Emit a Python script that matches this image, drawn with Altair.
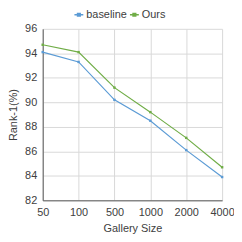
import altair as alt
import pandas as pd

gallery = ["50", "100", "500", "1000", "2000", "4000"]
baseline = [94.1, 93.3, 90.2, 88.5, 86.1, 83.9]
ours = [94.7, 94.1, 91.2, 89.2, 87.1, 84.7]
series = ["baseline", "Ours"]
colors = ["#5B9BD5", "#70AD47"]

rows = []
for g, b, o in zip(gallery, baseline, ours):
    rows.append({"Gallery Size": g, "series": "baseline", "value": b})
    rows.append({"Gallery Size": g, "series": "Ours", "value": o})
df = pd.DataFrame(rows)

font = "Liberation Sans"

chart = alt.Chart(df).mark_line(
    strokeWidth=1.2,
    point=alt.OverlayMarkDef(shape="square", size=6, filled=True),
).encode(
    x=alt.X("Gallery Size:N", sort=gallery,
            scale=alt.Scale(type="point", padding=0),
            axis=alt.Axis(title="Gallery Size", labelAngle=0, grid=True,
                          gridColor="#D9D9D9", ticks=False, domainColor="#595959",
                          labelColor="#404040", titleColor="#404040",
                          labelFontSize=11, titleFontSize=11,
                          labelFont=font, titleFont=font, titleFontWeight="normal",
                          labelPadding=6, titlePadding=5)),
    y=alt.Y("value:Q", scale=alt.Scale(domain=[82, 96], nice=False, zero=False),
            axis=alt.Axis(title="Rank-1(%)", values=[82, 84, 86, 88, 90, 92, 94, 96],
                          grid=True, gridColor="#D9D9D9", ticks=False,
                          domainColor="#595959", labelColor="#404040",
                          titleColor="#404040", labelFontSize=11, titleFontSize=11,
                          labelFont=font, titleFont=font, titleFontWeight="normal",
                          labelPadding=6, titlePadding=6)),
    color=alt.Color("series:N", sort=series,
                    scale=alt.Scale(domain=series, range=colors),
                    legend=alt.Legend(title=None, orient="none", direction="horizontal",
                                      legendX=31, legendY=-20,
                                      symbolType="M-1,0H1M-0.3,-0.3H0.3V0.3H-0.3Z",
                                      symbolSize=80, symbolStrokeWidth=1.5,
                                      labelFont=font, labelFontSize=11,
                                      labelColor="#404040", columnPadding=0,
                                      labelOffset=2)),
).properties(
    width=181, height=173,
    padding={"left": 35, "top": 20, "right": 12, "bottom": 40},
    autosize=alt.AutoSizeParams(type="none"),
).configure_view(stroke=None)

chart.save("out.html", embed_options={"renderer": "svg", "actions": False})
